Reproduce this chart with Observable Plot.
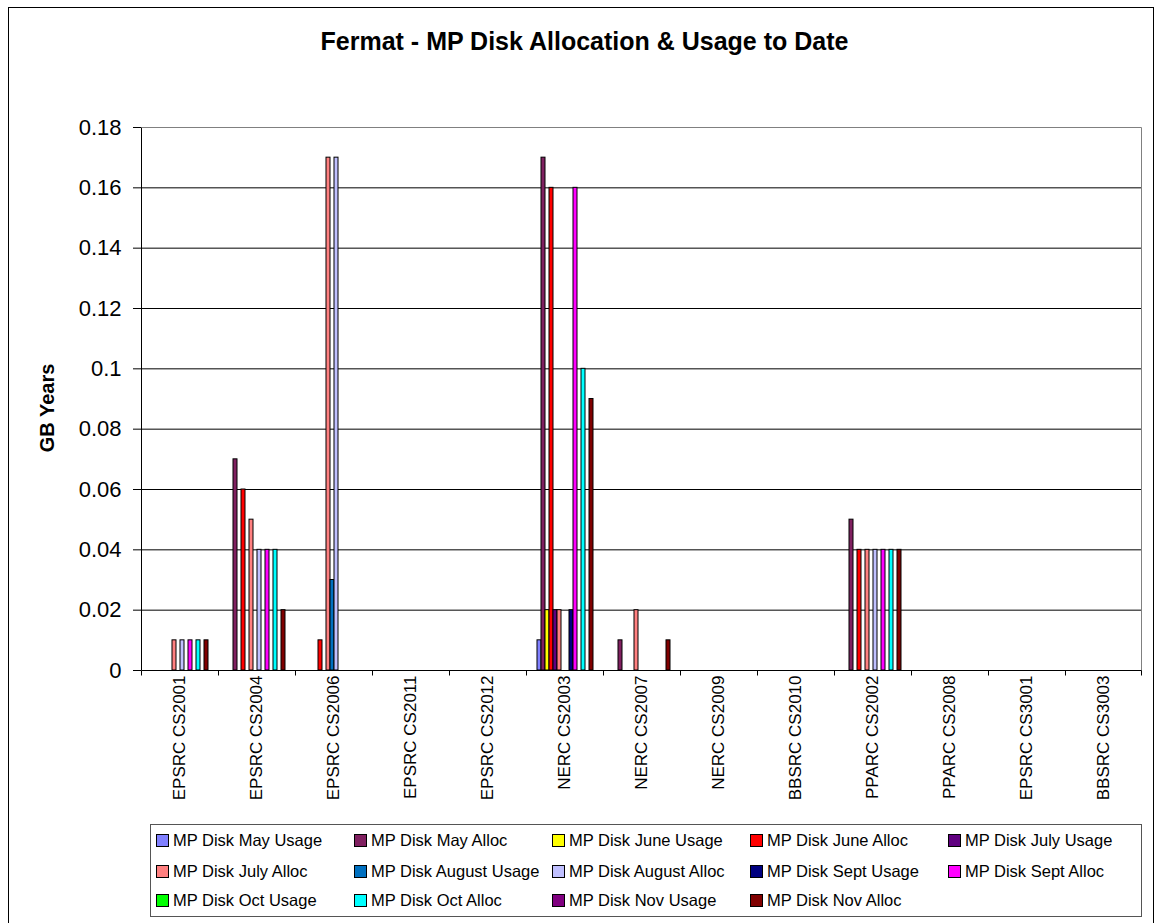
<!DOCTYPE html>
<html>
<head>
<meta charset="utf-8">
<script src="https://cdn.jsdelivr.net/npm/d3@7"></script>
<script src="https://cdn.jsdelivr.net/npm/@observablehq/plot@0.6"></script>
<style>
  html, body { margin: 0; padding: 0; background: #fff; overflow: hidden; }
  body { font-family: "Liberation Sans", Arial, sans-serif; color: #000; }
  #wrap { position: relative; width: 1157px; height: 923px; }
  #frame { position: absolute; left: 8px; top: 7px; width: 1146px; height: 940px; border: 1px solid #000; box-sizing: border-box; }
  #title { position: absolute; left: 10px; width: 1149px; top: 29px; line-height: 25px; text-align: center; font-weight: bold; font-size: 25px; }
  #ylabel { position: absolute; left: 47px; top: 408px; font-weight: bold; font-size: 20px; white-space: nowrap; transform: translate(-50%, -50%) rotate(-90deg); }
  #chart { position: absolute; left: 0; top: 100px; }
  #chart svg [aria-label^="y-axis"] text { font-size: 22px !important; }
  #chart svg [aria-label^="fx-axis"] text { font-size: 17px !important; }
  #legend { position: absolute; left: 150px; top: 824px; width: 992px; height: 93px; border: 1px solid #555; box-sizing: border-box; }
  .item { position: absolute; display: flex; align-items: center; font-size: 16.5px; white-space: nowrap; }
  .sw { width: 11px; height: 11px; border: 1px solid #000; margin-right: 4px; }
</style>
</head>
<body>
<div id="wrap">
  <div id="frame"></div>
  <div id="title">Fermat - MP Disk Allocation &amp; Usage to Date</div>
  <div id="ylabel">GB Years</div>
  <div id="chart"></div>
  <div id="legend"></div>
</div>
<script>
// ---- Data ----
const categories = ["EPSRC CS2001","EPSRC CS2004","EPSRC CS2006","EPSRC CS2011","EPSRC CS2012","NERC CS2003","NERC CS2007","NERC CS2009","BBSRC CS2010","PPARC CS2002","PPARC CS2008","EPSRC CS3001","BBSRC CS3003"];

const seriesNames = ["MP Disk May Usage","MP Disk May Alloc","MP Disk June Usage","MP Disk June Alloc","MP Disk July Usage","MP Disk July Alloc","MP Disk August Usage","MP Disk August Alloc","MP Disk Sept Usage","MP Disk Sept Alloc","MP Disk Oct Usage","MP Disk Oct Alloc","MP Disk Nov Usage","MP Disk Nov Alloc"];

const seriesColors = ["#8080ff","#802060","#ffff00","#ff0000","#600080","#ff8080","#0070c0","#c0c0ff","#000080","#ff00ff","#00ff00","#00ffff","#800080","#800000"];

const mayUsage  = [0, 0,    0,    0, 0, 0.01, 0,    0, 0, 0,    0, 0, 0];
const mayAlloc  = [0, 0.07, 0,    0, 0, 0.17, 0.01, 0, 0, 0.05, 0, 0, 0];
const juneUsage = [0, 0,    0,    0, 0, 0.02, 0,    0, 0, 0,    0, 0, 0];
const juneAlloc = [0, 0.06, 0.01, 0, 0, 0.16, 0,    0, 0, 0.04, 0, 0, 0];
const julyUsage = [0, 0,    0,    0, 0, 0.02, 0,    0, 0, 0,    0, 0, 0];
const julyAlloc = [0.01, 0.05, 0.17, 0, 0, 0.02, 0.02, 0, 0, 0.04, 0, 0, 0];
const augUsage  = [0, 0,    0.03, 0, 0, 0,    0,    0, 0, 0,    0, 0, 0];
const augAlloc  = [0.01, 0.04, 0.17, 0, 0, 0,  0,    0, 0, 0.04, 0, 0, 0];
const septUsage = [0, 0,    0,    0, 0, 0.02, 0,    0, 0, 0,    0, 0, 0];
const septAlloc = [0.01, 0.04, 0, 0, 0, 0.16, 0,    0, 0, 0.04, 0, 0, 0];
const octUsage  = [0, 0,    0,    0, 0, 0,    0,    0, 0, 0,    0, 0, 0];
const octAlloc  = [0.01, 0.04, 0, 0, 0, 0.1,  0,    0, 0, 0.04, 0, 0, 0];
const novUsage  = [0, 0,    0,    0, 0, 0,    0,    0, 0, 0,    0, 0, 0];
const novAlloc  = [0.01, 0.02, 0, 0, 0, 0.09, 0.01, 0, 0, 0.04, 0, 0, 0];

const yTicks = [0, 0.02, 0.04, 0.06, 0.08, 0.1, 0.12, 0.14, 0.16, 0.18];

// ---- Build table (every category/series pair, so every facet has data) ----
const seriesValues = [mayUsage, mayAlloc, juneUsage, juneAlloc, julyUsage, julyAlloc, augUsage, augAlloc, septUsage, septAlloc, octUsage, octAlloc, novUsage, novAlloc];
const rows = [];
seriesValues.forEach((vals, si) => vals.forEach((v, ci) => {
  rows.push({category: categories[ci], series: seriesNames[si], value: v});
}));

const gridLines = yTicks.filter(t => t > 0 && t < 0.18);

const chart = Plot.plot({
  width: 1157,
  height: 715,
  marginTop: 27,
  marginBottom: 145,
  marginLeft: 137,
  marginRight: 11,
  style: {background: "transparent", color: "#000", fontFamily: "'Liberation Sans', Arial, sans-serif", fontSize: "17px"},
  fx: {domain: categories, padding: 0, axis: "bottom", label: null, tickRotate: -90, tickSize: 0, tickPadding: 5},
  x: {domain: seriesNames, axis: null, paddingInner: 0, paddingOuter: 0.75},
  y: {domain: [0, 0.18], ticks: yTicks, tickFormat: d => String(+d.toFixed(2)), tickSize: 8, tickPadding: 12, label: null},
  color: {domain: seriesNames, range: seriesColors},
  marks: [
    Plot.ruleY(gridLines, {stroke: "#000", strokeWidth: 1}),
    Plot.barY(rows, {fx: "category", x: "series", y: "value", fill: "series", stroke: d => d.value > 0 ? "#000" : "none", strokeWidth: 1})
  ]
});
document.getElementById("chart").appendChild(chart);

// ---- Plot-area border, axis lines and category boundary ticks from the plot's scales ----
const fxs = chart.scale("fx");
const ys = chart.scale("y");
const bw = fxs.bandwidth != null ? fxs.bandwidth : (fxs.range[1] - fxs.range[0]) / categories.length;
const starts = categories.map(c => fxs.apply(c));
const xL = Math.round(starts[0]) + 0.5;
const xR = Math.round(starts[starts.length - 1] + bw) - 0.5;
const yT = Math.round(ys.apply(0.18)) + 0.5;
const yB = Math.round(ys.apply(0)) + 0.5;
const svg = d3.select(chart);
const g = svg.append("g").attr("fill", "none");
g.append("line").attr("x1", xL).attr("x2", xR).attr("y1", yT).attr("y2", yT).attr("stroke", "#808080");
g.append("line").attr("x1", xR).attr("x2", xR).attr("y1", yT).attr("y2", yB).attr("stroke", "#808080");
g.append("line").attr("x1", xL).attr("x2", xL).attr("y1", yT).attr("y2", yB).attr("stroke", "#000");
g.append("line").attr("x1", xL).attr("x2", xR).attr("y1", yB).attr("y2", yB).attr("stroke", "#000");
[...starts, starts[starts.length - 1] + bw].forEach((s, i, arr) => {
  const x = i === arr.length - 1 ? xR : Math.round(s) + 0.5;
  g.append("line").attr("x1", x).attr("x2", x).attr("y1", yB).attr("y2", yB + 5).attr("stroke", "#000");
});

// ---- Legend ----
const legend = document.getElementById("legend");
const colX = [5, 203, 401, 599, 797];
const rowY = [15, 46, 75];
seriesNames.forEach((name, i) => {
  const el = document.createElement("div");
  el.className = "item";
  el.style.left = colX[i % 5] + "px";
  el.style.top = (rowY[Math.floor(i / 5)] - 10) + "px";
  el.style.height = "20px";
  const sw = document.createElement("div");
  sw.className = "sw";
  sw.style.background = seriesColors[i];
  const tx = document.createElement("span");
  tx.textContent = name;
  el.appendChild(sw);
  el.appendChild(tx);
  legend.appendChild(el);
});
</script>
</body>
</html>
